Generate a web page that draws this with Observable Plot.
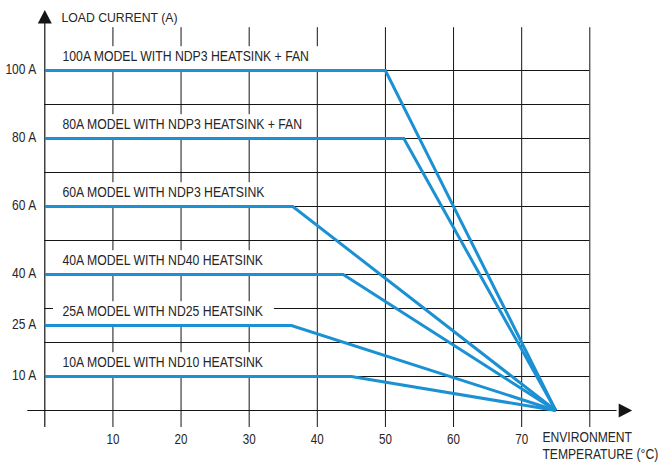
<!DOCTYPE html>
<html><head><meta charset="utf-8">
<script src="https://cdn.jsdelivr.net/npm/d3@7"></script>
<script src="https://cdn.jsdelivr.net/npm/@observablehq/plot@0.6"></script>
<style>body{margin:0;background:#fff}</style>
</head><body>
<div id="chart"></div>
<script>
// ---- data ----
const models = [
  "100A MODEL WITH NDP3 HEATSINK + FAN",
  "80A MODEL WITH NDP3 HEATSINK + FAN",
  "60A MODEL WITH NDP3 HEATSINK",
  "40A MODEL WITH ND40 HEATSINK",
  "25A MODEL WITH ND25 HEATSINK",
  "10A MODEL WITH ND10 HEATSINK"
];
const ratedCurrent = [100, 80, 60, 40, 25, 10];
const kneeTemp = [50, 52.7, 36.4, 43.8, 36.2, 45];
const cutoffTemp = 75;
const xTickValues = [10, 20, 30, 40, 50, 60, 70];
const xGridValues = [10, 20, 30, 40, 50, 60, 70, 80];
const yGridValues = [10, 20, 30, 40, 50, 60, 70, 80, 90, 100];
const yTickValues = [100, 80, 60, 40, 25, 10];
const yTickLabels = ["100 A", "80 A", "60 A", "40 A", "25 A", "10 A"];
const yTitle = "LOAD CURRENT (A)";
const xTitleLines = ["ENVIRONMENT", "TEMPERATURE (°C)"];

// ---- layout / style ----
const W = 662, H = 463;
const mL = 44.3, mR = 72.7, mT = 70, mB = 53;
const pxPerX = (W - mL - mR) / 80;
const ink = "#151515", textInk = "#262626", blue = "#1b91d3";
const FONT = "Liberation Sans, Arial, Helvetica, sans-serif";
const squeeze = {"15.5": 0.79, "14": 0.86, "14.5": 0.8, "15": 0.81, "12.5": 0.98};

const curves = models.flatMap((m, i) => [
  {model: m, t: 0, a: ratedCurrent[i]},
  {model: m, t: kneeTemp[i], a: ratedCurrent[i]},
  {model: m, t: cutoffTemp, a: 0}
]);

const ctx = document.createElement("canvas").getContext("2d");
ctx.font = `15.5px "Liberation Sans"`;
const labels = models.map((m, i) => {
  const w = ctx.measureText(m).width * squeeze["15.5"];
  return {model: m, a: ratedCurrent[i], x2: 2.6 + (w + 10) / pxPerX};
});
const yTicks = yTickValues.map((v, i) => ({v, label: yTickLabels[i]}));

const upTri = {draw(c, size) { const k = Math.sqrt(size / Math.PI) / 5.5;
  c.moveTo(0, -9 * k); c.lineTo(7 * k, 4.5 * k); c.lineTo(-7 * k, 4.5 * k); c.closePath(); }};
const rightTri = {draw(c, size) { const k = Math.sqrt(size / Math.PI) / 5.5;
  c.moveTo(9 * k, 0); c.lineTo(-4.5 * k, -7 * k); c.lineTo(-4.5 * k, 7 * k); c.closePath(); }};

const chart = Plot.plot({
  width: W, height: H,
  marginLeft: mL, marginRight: mR, marginTop: mT, marginBottom: mB,
  style: {fontFamily: FONT, background: "white", overflow: "visible"},
  x: {domain: [0, 80], axis: null},
  y: {domain: [0, 100], axis: null},
  marks: [
    // grid
    Plot.ruleX(xGridValues, {x: d => d, y1: () => -5, y2: () => 112.6, stroke: ink, strokeWidth: 1}),
    Plot.ruleY(yGridValues, {y: d => d, x1: () => 0, x2: () => 80, stroke: ink, strokeWidth: 1}),
    // axes
    Plot.ruleX([0], {x: d => d, y1: () => -5, y2: () => 114, stroke: ink, strokeWidth: 1.2}),
    Plot.ruleY([0], {y: d => d, x1: () => -2.5, x2: () => 84, stroke: ink, strokeWidth: 1.2}),
    Plot.dot([0], {x: () => 0, y: () => 115.15, r: 5.5, symbol: upTri, fill: ink, stroke: "none"}),
    Plot.dot([0], {x: () => 84.9, y: () => 0, r: 5.5, symbol: rightTri, fill: ink, stroke: "none"}),
    // label boxes
    Plot.rect(labels, {x1: () => 1.28, x2: "x2", y1: "a", y2: d => d.a + 7, fill: "white", stroke: "none"}),
    // curves
    Plot.line(curves, {x: "t", y: "a", z: "model", stroke: blue, strokeWidth: 3,
      strokeLinejoin: "miter", strokeLinecap: "butt", strokeMiterlimit: 4}),
    // labels
    Plot.text(labels, {x: () => 2.6, y: "a", dy: -14, text: "model", textAnchor: "start",
      lineAnchor: "middle", fontSize: 15.5, fill: textInk}),
    // y ticks
    Plot.text(yTicks, {x: () => 0, y: "v", dx: -8.6, dy: -1, text: "label", textAnchor: "end",
      lineAnchor: "middle", fontSize: 14, fill: textInk}),
    // x ticks
    Plot.text(xTickValues, {x: d => d, y: () => 0, dy: 28.5, text: d => String(d),
      lineAnchor: "middle", fontSize: 14.5, fill: textInk}),
    // titles
    Plot.text([yTitle], {x: () => 2.45, y: () => 115.4, text: d => d, textAnchor: "start",
      lineAnchor: "middle", fontSize: 12.5, fill: textInk}),
    Plot.text([xTitleLines[0]], {x: () => 73.04, y: () => 0, dy: 26.3, text: d => d, textAnchor: "start",
      lineAnchor: "middle", fontSize: 15, fill: textInk}),
    Plot.text([xTitleLines[1]], {x: () => 73.04, y: () => 0, dy: 43.8, text: d => d, textAnchor: "start",
      lineAnchor: "middle", fontSize: 15, fill: textInk})
  ]
});

document.getElementById("chart").appendChild(chart);

// horizontal condensing of text (narrow typeface look)
chart.querySelectorAll("text").forEach(el => {
  const fs = String(parseFloat(getComputedStyle(el).fontSize));
  const f = squeeze[fs];
  if (!f) return;
  const x = parseFloat(el.getAttribute("x") || 0);
  const t = el.getAttribute("transform") || "";
  el.setAttribute("transform", `${t} translate(${x},0) scale(${f},1) translate(${-x},0)`);
});
</script>
</body></html>
